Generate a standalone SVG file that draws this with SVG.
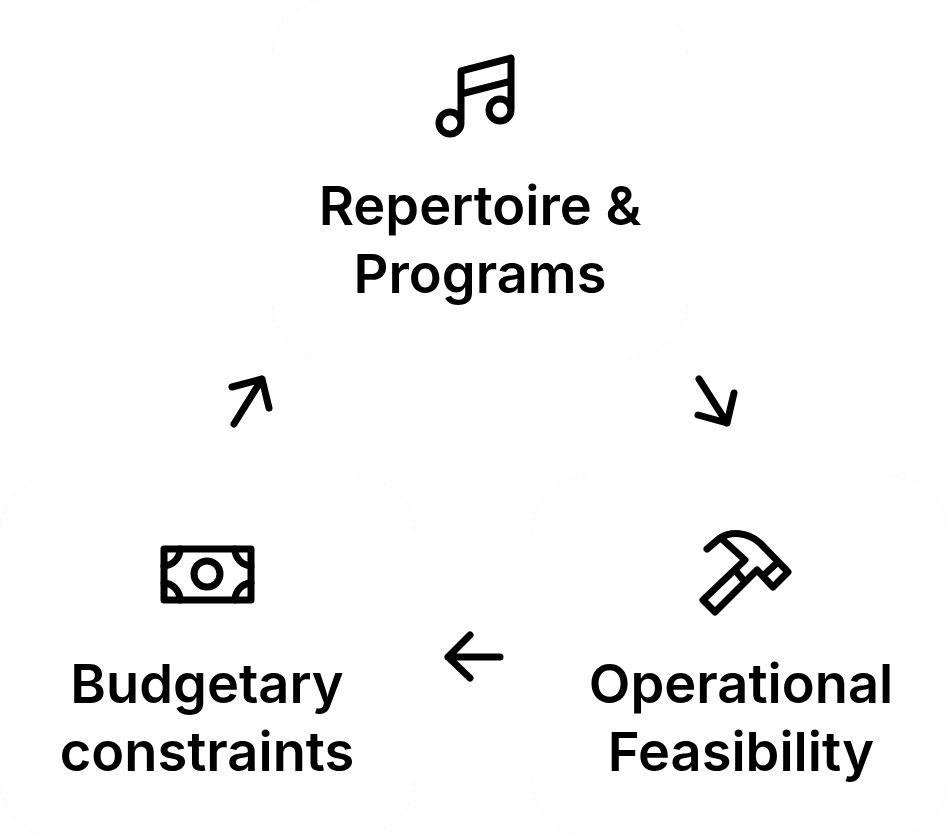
<svg xmlns="http://www.w3.org/2000/svg" width="948" height="834" viewBox="0 0 948 834">
<style>
text{font-family:Inter,"Liberation Sans",sans-serif;font-size:54.2px;font-weight:600;fill:#000;text-anchor:middle}
.i{fill:none;stroke:#000;stroke-width:7;stroke-linecap:round;stroke-linejoin:round}
.c{fill:none;stroke:#f4f4f4;stroke-width:1;stroke-dasharray:2 5}
</style>
<rect width="948" height="834" fill="#fff"/>
<g id="node-repertoire">
<path class="c" d="M272 57A58 58 0 0 1 330 -1M630 -1A58 58 0 0 1 688 57M272 300A58 58 0 0 0 330 358M630 358A58 58 0 0 0 688 300"/>
<path class="i" d="M461 119V71L511 58V107M461 94L511 81"/>
<circle class="i" cx="450" cy="123" r="11"/>
<circle class="i" cx="500" cy="110" r="11"/>
<text x="480" y="225">Repertoire &amp;</text>
<text x="480" y="293">Programs</text>
</g>
<g id="node-budget">
<path class="c" d="M0 534A58 58 0 0 1 58 476M357 476A58 58 0 0 1 415 534M0 778A58 58 0 0 0 58 836M357 836A58 58 0 0 0 415 778"/>
<rect class="i" x="164" y="549" width="87" height="51"/>
<circle class="i" cx="207" cy="574" r="13"/>
<path class="i" d="M164 566A17 17 0 0 0 180 549M235 549A17 17 0 0 0 251 566M164 583A17 17 0 0 1 180 600M235 600A17 17 0 0 1 251 583"/>
<text x="207" y="703">Budgetary</text>
<text x="207" y="771">constraints</text>
</g>
<g id="node-operational">
<path class="c" d="M532 534A58 58 0 0 1 590 476M890 476A58 58 0 0 1 948 534M532 778A58 58 0 0 0 590 836M890 836A58 58 0 0 0 948 778"/>
<path class="i" d="M707 549L720 538C731 531 748 532 760 543L788 572L773 587L757 570L745 582L715 612L703 600L745 560L723 540M735 570L745 582M766 573L778 562"/>
<text x="741" y="703">Operational</text>
<text x="741" y="771">Feasibility</text>
</g>
<g id="connectors">
<path class="i" d="M234 424L262 379M232 387L262 379L269 408"/>
<path class="i" d="M699 379L727 423M698 415L727 423L734 393"/>
<path class="i" d="M500 657H448M470 635L448 657L470 678"/>
</g>
</svg>
